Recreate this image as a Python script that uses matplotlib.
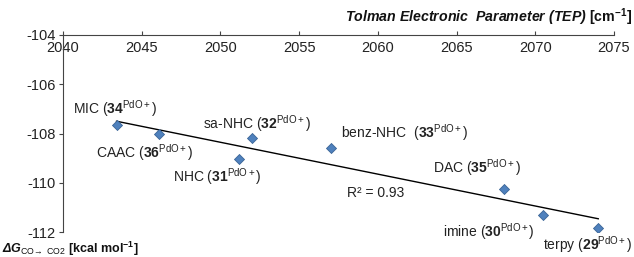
import numpy as np
import matplotlib
matplotlib.use("Agg")
import matplotlib.pyplot as plt

plt.rcParams['font.family'] = ['Liberation Sans', 'DejaVu Sans']
plt.rcParams['mathtext.fontset'] = 'custom'
plt.rcParams['mathtext.rm'] = 'Liberation Sans'
plt.rcParams['mathtext.it'] = 'Liberation Sans:italic'
plt.rcParams['mathtext.bf'] = 'Liberation Sans:bold'
plt.rcParams['mathtext.bfit'] = 'Liberation Sans:italic:bold'
plt.rcParams['axes.unicode_minus'] = False

# data
names = ["MIC", "CAAC", "NHC", "sa-NHC", "benz-NHC ", "DAC", "imine", "terpy"]
ids = ["34", "36", "31", "32", "33", "35", "30", "29"]
tep = [2043.4, 2046.1, 2051.2, 2052.0, 2057.0, 2068.0, 2070.5, 2074.0]
dG = [-107.66, -108.04, -109.05, -108.2, -108.58, -110.25, -111.29, -111.83]
# label positions (data coords)
lab_x = [2040.64, 2042.1, 2047.0, 2048.9, 2057.66, 2063.5, 2064.14, 2070.5]
lab_y = [-106.97, -108.76, -109.73, -107.58, -107.98, -109.37, -111.97, -112.5]
xticks = [2040, 2045, 2050, 2055, 2060, 2065, 2070, 2075]
yticks = [-104, -106, -108, -110, -112]

fig = plt.figure(figsize=(6.34, 2.57), dpi=100)
ax = fig.add_axes([63/634, 25/257, 551/634, 197/257])

# trendline
k, b = np.polyfit(tep, dG, 1)
xs = np.array([min(tep), max(tep)])
ax.plot(xs, k*xs + b, color='black', lw=1.0, zorder=2)
ax.scatter(tep, dG, marker='D', s=26, color='#4F81BD', edgecolor='#3A6496', lw=0.6, zorder=3)

for n, i, x, y in zip(names, ids, lab_x, lab_y):
    ax.text(x, y, n + r" ($\mathbf{" + i + r"}^{\mathrm{PdO+}}$)", fontsize=10,
            ha='left', va='center', color='#222222')

ax.text(2058.04, -110.42, "R² = 0.93", fontsize=10, ha='left', va='center', color='#222222')

ax.set_xlim(2040, 2075)
ax.set_ylim(-112, -104)
ax.set_xticks(xticks)
ax.set_yticks(yticks)
ax.spines['top'].set_visible(False)
ax.spines['right'].set_visible(False)
ax.spines['bottom'].set_position(('data', -104))
ax.spines['bottom'].set_color('#444444')
ax.spines['left'].set_color('#444444')
ax.tick_params(axis='x', direction='in', length=3, pad=4, labelsize=10.5, colors='#222222')
ax.tick_params(axis='y', direction='out', length=3, pad=2.5, labelsize=10.5, colors='#222222')
ax.tick_params(axis='x', color='#444444')
ax.tick_params(axis='y', color='#444444')

fig.text(632/634, 1 - 17/257, r"$\mathbfit{Tolman\ Electronic\ \ Parameter\ (TEP)}$ [cm$^{\mathbf{-1}}$]",
         ha='right', va='center', fontsize=10.2, fontweight='bold', color='#111111')
fig.text(2/634, 1 - 249/257, r"$\mathbfit{\Delta G}_{\mathrm{CO\!\to\ CO2}}$ [kcal mol$^{\mathbf{-1}}$]",
         ha='left', va='center', fontsize=9, fontweight='bold', color='#111111')

fig.savefig("out.png", dpi=100)
